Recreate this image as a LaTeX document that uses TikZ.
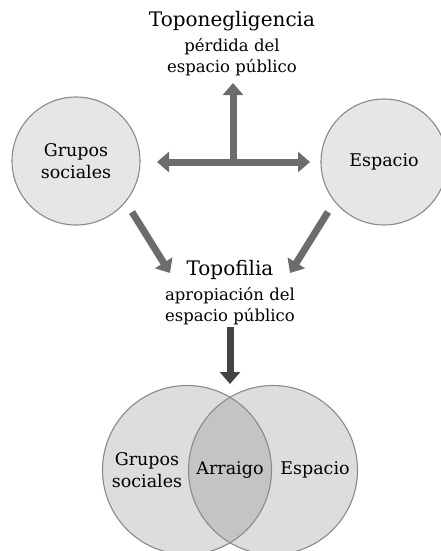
\documentclass[tikz,border=0pt]{standalone}
\usepackage{fontspec}
\setmainfont{DejaVu Serif}
\usetikzlibrary{arrows.meta}
\definecolor{arrgray}{HTML}{6B6C6E}
\definecolor{arrdark}{HTML}{434344}
\definecolor{circfill}{HTML}{E6E6E8}
\definecolor{vennfill}{HTML}{DDDDDF}
\definecolor{interfill}{HTML}{C4C4C6}
\definecolor{bordergray}{HTML}{8A8A8C}
\tikzset{
  arr/.style={draw=arrgray, line width=7pt, -{Triangle[width=20pt,length=12pt]}},
  arrdk/.style={draw=arrdark, line width=7pt, -{Triangle[width=20pt,length=12pt]}},
  bigcirc/.style={circle, fill=circfill, draw=bordergray, line width=1.1pt, align=center, font=\fontsize{17.5}{22}\selectfont},
  lbl/.style={align=center, font=\fontsize{17.5}{22}\selectfont, inner sep=0pt},
  head/.style={align=center, inner sep=0pt, font=\fontsize{16.5}{21.5}\selectfont},
}
\begin{document}
\begin{tikzpicture}[x=1pt,y=-1pt]
\useasboundingbox (0,0) rectangle (441,551);
% top heading
\node[head] (tn) at (232,44) {{\fontsize{20}{24}\selectfont Toponegligencia}\\[3pt] pérdida del\\ espacio público};
% circles
\node[bigcirc, minimum size=128pt, inner sep=0pt] (gs) at (76,161) {Grupos\\sociales};
\node[bigcirc, minimum size=126pt, inner sep=0pt] (es) at (384,162) {Espacio};
% junction arrows
\coordinate (j) at (233,162);
\coordinate (lt) at (157,162);
\coordinate (rt) at (310,162);
\coordinate (ut) at (233,83);
\draw[arr] (j) -- (lt);
\draw[arr] (j) -- (rt);
\draw[arr] (j) -- (ut);
% topofilia
\node[head] (tf) at (230,293) {{\fontsize{20}{24}\selectfont Topofilia}\\[3pt] apropiación del\\ espacio público};
\coordinate (d1s) at (132,212);
\coordinate (d1e) at (170,273);
\coordinate (d2s) at (328,212);
\coordinate (d2e) at (290,273);
\draw[arr] (d1s) -- (d1e);
\draw[arr] (d2s) -- (d2e);
\coordinate (ds) at (230,327);
\coordinate (de) at (230,384);
\draw[arrdk] (ds) -- (de);
% venn
\coordinate (vl) at (187,470);
\coordinate (vr) at (273,470);
\fill[vennfill] (vl) circle (84.5);
\fill[vennfill] (vr) circle (84.5);
\begin{scope}
\clip (vl) circle (84.5);
\fill[interfill] (vr) circle (84.5);
\end{scope}
\draw[bordergray, line width=1.1pt] (vl) circle (84.5);
\draw[bordergray, line width=1.1pt] (vr) circle (84.5);
\node[lbl] (vgs) at (147,470) {Grupos\\sociales};
\node[lbl] (var) at (230,470) {Arraigo};
\node[lbl] (ves) at (315,470) {Espacio};
\end{tikzpicture}
\end{document}
